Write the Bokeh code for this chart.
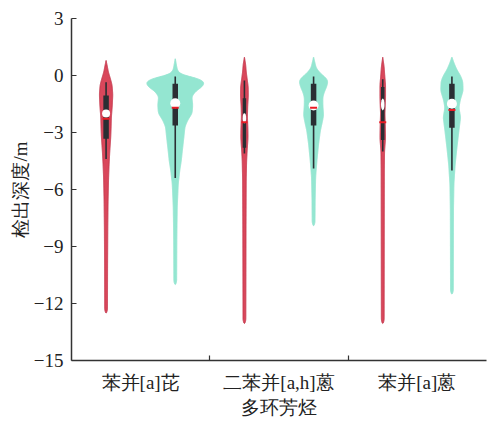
import numpy as np
from bokeh.plotting import figure
from bokeh.models import Range1d, FixedTicker, ColumnDataSource
from bokeh.embed import file_html
from bokeh.resources import INLINE

# ---------------- data ----------------
categories = ["苯并[a]芘", "二苯并[a,h]蒽", "苯并[a]蒽"]
x_title = "多环芳烃"
y_title = "检出深度/m"
y_ticks = [-15, -12, -9, -6, -3, 0, 3]

# violin density profiles: depth levels (m) and relative density (half-width units)
red1_depth = [0.79, 0.5, 0.2, -0.2, -0.5, -1.0, -1.6, -2.2, -2.8, -3.3, -4.0, -4.7, -5.4, -6.6, -8.0, -10.0, -12.4, -12.5]
red1_dens = [0, 1.2, 2.2, 4.5, 6.0, 6.7, 6.2, 5.3, 5.0, 4.6, 3.7, 3.0, 2.5, 2.0, 1.7, 1.5, 1.4, 0]

teal1_depth = [0.88, 0.6, 0.3, 0.12, 0.0, -0.15, -0.35, -0.6, -0.8, -1.1, -1.55, -2.0, -2.35, -2.7, -3.3, -4.0, -4.5, -5.0, -5.7, -6.9, -8.5, -10.9, -11.0]
teal1_dens = [0, 1.0, 2.0, 4.0, 9.0, 23.0, 29.5, 27.0, 21.0, 16.5, 17.5, 16.8, 12.5, 9.7, 8.5, 7.0, 6.0, 4.5, 3.0, 2.0, 1.6, 1.4, 0]

red2_depth = [0.96, 0.6, 0.2, -0.2, -0.6, -1.1, -1.6, -2.2, -2.8, -3.3, -3.9, -4.5, -5.5, -8.0, -12.95, -13.05]
red2_dens = [0, 1.2, 1.8, 2.8, 3.8, 3.9, 3.3, 3.0, 3.5, 3.6, 2.8, 2.2, 1.8, 1.6, 1.4, 0]

teal2_depth = [0.96, 0.7, 0.4, 0.1, -0.1, -0.3, -0.6, -0.9, -1.15, -1.6, -2.1, -2.5, -2.9, -3.6, -4.5, -5.3, -6.5, -7.8, -7.9]
teal2_dens = [0, 1.2, 2.5, 7.0, 12.0, 14.5, 13.0, 10.5, 9.2, 9.3, 10.0, 8.5, 6.8, 5.0, 3.3, 2.1, 1.6, 1.4, 0]

red3_depth = [0.96, 0.5, 0.0, -0.5, -1.2, -2.0, -2.7, -3.3, -4.0, -5.0, -12.95, -13.05]
red3_dens = [0, 1.3, 2.0, 2.8, 2.8, 2.2, 2.6, 2.8, 1.8, 1.6, 1.4, 0]

teal3_depth = [0.96, 0.6, 0.3, 0.0, -0.3, -0.8, -1.3, -1.7, -2.2, -2.9, -3.8, -4.7, -5.7, -7.0, -11.4, -11.5]
teal3_dens = [0, 2.5, 5.0, 8.5, 10.8, 11.2, 8.3, 7.0, 8.7, 7.0, 5.0, 3.2, 2.0, 1.6, 1.4, 0]

# box statistics per violin (order: red1, teal1, red2, teal2, red3, teal3)
q_upper = [-1.05, -0.44, -1.2, -0.44, -0.6, -0.44]
q_lower = [-3.33, -2.63, -3.8, -2.63, -3.4, -2.75]
whisker_top = [-0.35, -0.05, -0.26, -0.05, -0.2, -0.05]
whisker_bottom = [-4.4, -5.4, -4.1, -4.9, -4.0, -5.0]
medians = [-2.0, -1.46, -2.25, -1.58, -1.52, -1.49]
means = [-2.28, -1.7, -2.46, -1.7, -2.46, -1.81]

# ---------------- layout / style ----------------
positions = [0.25, 0.75, 1.25, 1.75, 2.25, 2.75]
RED = "#d9475b"
RED_EDGE = "#c63a4f"
TEAL = "#94e6d1"
DARK = "#2a2e33"
PX = 3 / 415.0  # data units per pixel in x

profiles = [
    (red1_depth, red1_dens, RED, RED_EDGE),
    (teal1_depth, teal1_dens, TEAL, TEAL),
    (red2_depth, red2_dens, RED, RED_EDGE),
    (teal2_depth, teal2_dens, TEAL, TEAL),
    (red3_depth, red3_dens, RED, RED_EDGE),
    (teal3_depth, teal3_dens, TEAL, TEAL),
]
box_px = [5.5, 5.5, 3.5, 5.5, 3.5, 5.5]
marker_w = [8, 10, 3.5, 10, 3.5, 10]
marker_h = [8, 10, 10, 10, 12, 10]
mean_half_px = [3.5, 3.5, 3.0, 3.5, 3.5, 3.5]


def violin_outline(center, depth, dens):
    depth = np.asarray(depth, float)
    dens = np.asarray(dens, float)
    fine = np.linspace(depth[0], depth[-1], 600)
    w = np.interp(fine, depth[::-1], dens[::-1])
    step = abs(fine[1] - fine[0])
    sigma = 0.09
    k = np.arange(-int(4 * sigma / step), int(4 * sigma / step) + 1) * step
    kern = np.exp(-0.5 * (k / sigma) ** 2)
    kern /= kern.sum()
    pad = len(k) // 2
    wp = np.concatenate([np.zeros(pad), w, np.zeros(pad)])
    ws = np.convolve(wp, kern, mode="valid")
    ws = np.maximum(ws, 0)
    ws[0] = 0
    ws[-1] = 0
    half = ws * PX
    xs = np.concatenate([center + half, (center - half)[::-1]])
    ys = np.concatenate([fine, fine[::-1]])
    return xs.tolist(), ys.tolist()


p = figure(width=488, height=421, x_range=Range1d(0, 3), y_range=Range1d(-15, 3),
           output_backend="svg", toolbar_location=None,
           min_border_left=71, min_border_right=2, min_border_top=18, min_border_bottom=61)
p.outline_line_color = None
p.grid.visible = False
p.background_fill_color = "white"

for pos, (dep, den, fill, edge) in zip(positions, profiles):
    xs, ys = violin_outline(pos, dep, den)
    p.patch(xs, ys, fill_color=fill, line_color=edge, line_width=1)

src = ColumnDataSource(dict(
    x=positions, qu=q_upper, ql=q_lower, wt=whisker_top, wb=whisker_bottom,
    med=medians, mean=means,
    bw=[b * PX for b in box_px],
    mw=marker_w, mh=marker_h,
    mx0=[x - h * PX for x, h in zip(positions, mean_half_px)],
    mx1=[x + h * PX for x, h in zip(positions, mean_half_px)],
))
p.segment(x0="x", y0="wt", x1="x", y1="wb", source=src, line_color=DARK, line_width=1.6)
p.vbar(x="x", width="bw", top="qu", bottom="ql", source=src, fill_color=DARK, line_color=None)
p.ellipse(x="x", y="med", width="mw", height="mh", width_units="screen", height_units="screen",
          source=src, fill_color="white", line_color=None)
p.segment(x0="mx0", y0="mean", x1="mx1", y1="mean", source=src, line_color="#ea1c24", line_width=2)

SERIF = "Liberation Serif"

# y axis
ya = p.yaxis[0]
ya.ticker = FixedTicker(ticks=y_ticks)
ya.major_label_overrides = {t: str(t).replace("-", "\u2212") for t in y_ticks}
ya.major_tick_in = 5
ya.major_tick_out = 0
ya.minor_tick_in = 0
ya.minor_tick_out = 0
ya.axis_line_width = 1.5
ya.axis_line_color = "#333333"
ya.major_tick_line_color = "#333333"
ya.major_tick_line_width = 1.2
ya.major_label_text_font = SERIF
ya.major_label_text_font_size = "19px"
ya.major_label_text_color = "#222222"
ya.major_label_standoff = 8
ya.axis_label = y_title
ya.axis_label_text_font = SERIF
ya.axis_label_text_font_size = "19px"
ya.axis_label_text_font_style = "normal"
ya.axis_label_text_color = "#222222"
ya.axis_label_standoff = 0

# x axis
xa = p.xaxis[0]
xa.ticker = FixedTicker(ticks=[0.5, 1.5, 2.5], minor_ticks=[1, 2])
xa.major_label_overrides = {i + 0.5: c for i, c in enumerate(categories)}
xa.major_tick_in = 0
xa.major_tick_out = 0
xa.minor_tick_in = 5
xa.minor_tick_out = 0
xa.minor_tick_line_color = "#333333"
xa.minor_tick_line_width = 1.2
xa.axis_line_width = 1.5
xa.axis_line_color = "#333333"
xa.major_label_text_font = SERIF
xa.major_label_text_font_size = "19px"
xa.major_label_text_color = "#222222"
xa.major_label_standoff = 11
xa.axis_label = x_title
xa.axis_label_text_font = SERIF
xa.axis_label_text_font_size = "19px"
xa.axis_label_text_font_style = "normal"
xa.axis_label_text_color = "#222222"
xa.axis_label_standoff = 1

open("out.html", "w").write(file_html(p, INLINE))
